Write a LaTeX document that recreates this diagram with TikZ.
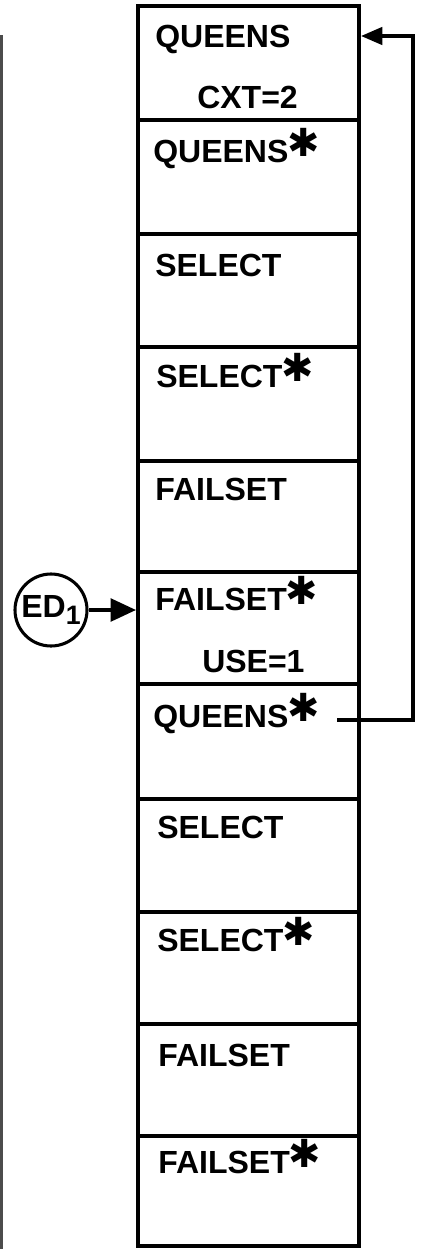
\documentclass[tikz,border=0pt]{standalone}
\usepackage{fontspec}
\setmainfont{Liberation Sans}
\newfontfamily\starfont{DejaVu Sans}
\usetikzlibrary{arrows.meta,fit}
\newcommand{\st}{\kern-1pt{\starfont\bfseries\fontsize{29pt}{29pt}\selectfont\raisebox{4pt}{✱}}}
\tikzset{
  rowbox/.style={draw, line width=3pt, inner sep=0pt},
  lbl/.style={anchor=base west, inner sep=0pt, font=\bfseries\fontsize{24pt}{24pt}\selectfont},
  conn/.style={line width=2.6pt},
  arr/.style={line width=2.6pt, -{Triangle[length=19pt,width=17pt]}},
  arrs/.style={line width=2.6pt, -{Triangle[length=16pt,width=13pt]}}
}
\begin{document}
\begin{tikzpicture}[x=0.75pt,y=-0.75pt]
\useasboundingbox (0,0) rectangle (423,1249);
% scan edge line at left
\draw[black!70, line width=1.5pt] (1.5,35) -- (1.5,1249);
% rows
\node[rowbox, fit={(138,6) (359,120)}] (r1) {};
\node[rowbox, fit={(138,120) (359,234)}] (r2) {};
\node[rowbox, fit={(138,234) (359,347)}] (r3) {};
\node[rowbox, fit={(138,347) (359,461)}] (r4) {};
\node[rowbox, fit={(138,461) (359,572)}] (r5) {};
\node[rowbox, fit={(138,572) (359,684)}] (r6) {};
\node[rowbox, fit={(138,684) (359,799)}] (r7) {};
\node[rowbox, fit={(138,799) (359,912)}] (r8) {};
\node[rowbox, fit={(138,912) (359,1024)}] (r9) {};
\node[rowbox, fit={(138,1024) (359,1136)}] (r10) {};
\node[rowbox, fit={(138,1136) (359,1246)}] (r11) {};
% labels
\node[lbl] (t1) at (155,47) {QUEENS};
\node[lbl] (t1b) at (197,108) {CXT=2};
\node[lbl] (t2) at (153,162) {QUEENS\st};
\node[lbl] (t3) at (155,276) {SELECT};
\node[lbl] (t4) at (156,387) {SELECT\st};
\node[lbl] (t5) at (155,500) {FAILSET};
\node[lbl] (t6) at (155,610) {FAILSET\st};
\node[lbl] (t6b) at (202,672) {USE=1};
\node[lbl] (t7) at (153,727) {QUEENS\st};
\node[lbl] (t8) at (157,838) {SELECT};
\node[lbl] (t9) at (157,951) {SELECT\st};
\node[lbl] (t10) at (158,1066) {FAILSET};
\node[lbl] (t11) at (158,1173) {FAILSET\st};
% ED1
\node[circle, draw, line width=2.3pt, minimum size=54pt, inner sep=0pt,
      font=\bfseries\fontsize{24pt}{24pt}\selectfont] (ed) at (51,610)
      {ED\raisebox{-5pt}{\fontsize{20pt}{20pt}\selectfont 1}};
\draw[arr] (ed) -- (r6.west |- ed);
% feedback connector
\coordinate (fbstart) at (337,720);
\coordinate (fbx) at (413,720);
\coordinate (fbend) at (r1.east |- 0,36);
\draw[arrs] (fbstart) -- (fbx) |- (fbend);
\end{tikzpicture}
\end{document}
